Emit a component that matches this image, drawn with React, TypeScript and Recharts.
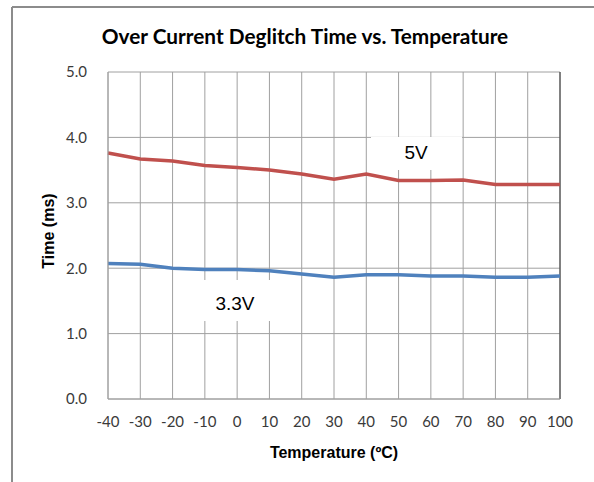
import React from "react";
import { LineChart, Line, XAxis, YAxis, CartesianGrid, ReferenceLine } from "recharts";

const temperatures = [-40, -30, -20, -10, 0, 10, 20, 30, 40, 50, 60, 70, 80, 90, 100];
const series5V = [3.76, 3.67, 3.64, 3.57, 3.54, 3.5, 3.44, 3.36, 3.44, 3.34, 3.34, 3.35, 3.28, 3.28, 3.28];
const series3V3 = [2.07, 2.06, 2.0, 1.98, 1.98, 1.96, 1.91, 1.86, 1.9, 1.9, 1.88, 1.88, 1.86, 1.86, 1.88];
const xTicks = [-40, -30, -20, -10, 0, 10, 20, 30, 40, 50, 60, 70, 80, 90, 100];
const yTicks = [0, 1, 2, 3, 4, 5];

const title = "Over Current Deglitch Time vs. Temperature";
const xLabel = "Temperature (ºC)";
const yLabel = "Time (ms)";
const label5V = "5V";
const label3V3 = "3.3V";

const data = temperatures.map((t, i) => ({ t, v5: series5V[i], v33: series3V3[i] }));

const tickFont = { fontFamily: "Lato, 'Open Sans', sans-serif", fontSize: 15, fill: "#3a3a3a" };

export default function App() {
  return (
    <div style={{ position: "absolute", left: 0, top: 0, width: 594, height: 482, background: "#fff" }}>
      <svg width={594} height={482} style={{ position: "absolute", left: 0, top: 0 }}>
        <line x1={12} y1={7} x2={594} y2={7} stroke="#8c8c8c" strokeWidth={2} />
        <line x1={12} y1={7} x2={12} y2={482} stroke="#8c8c8c" strokeWidth={2} />
      </svg>
      <div style={{ position: "absolute", left: 0, top: 0 }}>
        <LineChart width={594} height={482} data={data} margin={{ top: 72, right: 34, bottom: 53, left: 68 }}>
          <CartesianGrid stroke="#a0a0a0" strokeWidth={1} />
          <XAxis
            dataKey="t"
            type="number"
            domain={[-40, 100]}
            ticks={xTicks}
            interval={0}
            height={30}
            tickSize={0}
            tickMargin={17}
            tick={tickFont}
            axisLine={{ stroke: "#a0a0a0" }}
          />
          <YAxis
            type="number"
            domain={[0, 5]}
            ticks={yTicks}
            interval={0}
            width={40}
            tickSize={0}
            tickMargin={21}
            tickFormatter={(v: number) => v.toFixed(1)}
            tick={tickFont}
            axisLine={{ stroke: "#a0a0a0" }}
          />
          <ReferenceLine x={100} stroke="#333" strokeWidth={1} />
          <Line type="linear" dataKey="v5" stroke="#c0504d" strokeWidth={3.5} dot={false} isAnimationActive={false} />
          <Line type="linear" dataKey="v33" stroke="#4f81bd" strokeWidth={3.5} dot={false} isAnimationActive={false} />
        </LineChart>
      </div>
      <svg width={594} height={482} style={{ position: "absolute", left: 0, top: 0, pointerEvents: "none" }}>
        <rect x={371} y={137} width={91} height={33} fill="#fff" />
        <text x={416} y={159} textAnchor="middle" fontFamily="'Liberation Sans', Arial, sans-serif" fontSize={19} fill="#000">{label5V}</text>
        <rect x={180} y={280} width={110} height={41} fill="#fff" />
        <text x={235} y={310} textAnchor="middle" fontFamily="'Liberation Sans', Arial, sans-serif" fontSize={19} fill="#000">{label3V3}</text>
        <text x={305} y={44} textAnchor="middle" fontFamily="Lato, 'Open Sans', sans-serif" fontWeight="bold" fontSize={20.8} fill="#000">{title}</text>
        <text x={334} y={458} textAnchor="middle" fontFamily="'Liberation Sans', Arial, sans-serif" fontWeight="bold" fontSize={16} fill="#000">{xLabel}</text>
        <text x={0} y={0} transform="translate(54,231) rotate(-90)" textAnchor="middle" fontFamily="'Liberation Sans', Arial, sans-serif" fontWeight="bold" fontSize={16} fill="#000">{yLabel}</text>
      </svg>
    </div>
  );
}
